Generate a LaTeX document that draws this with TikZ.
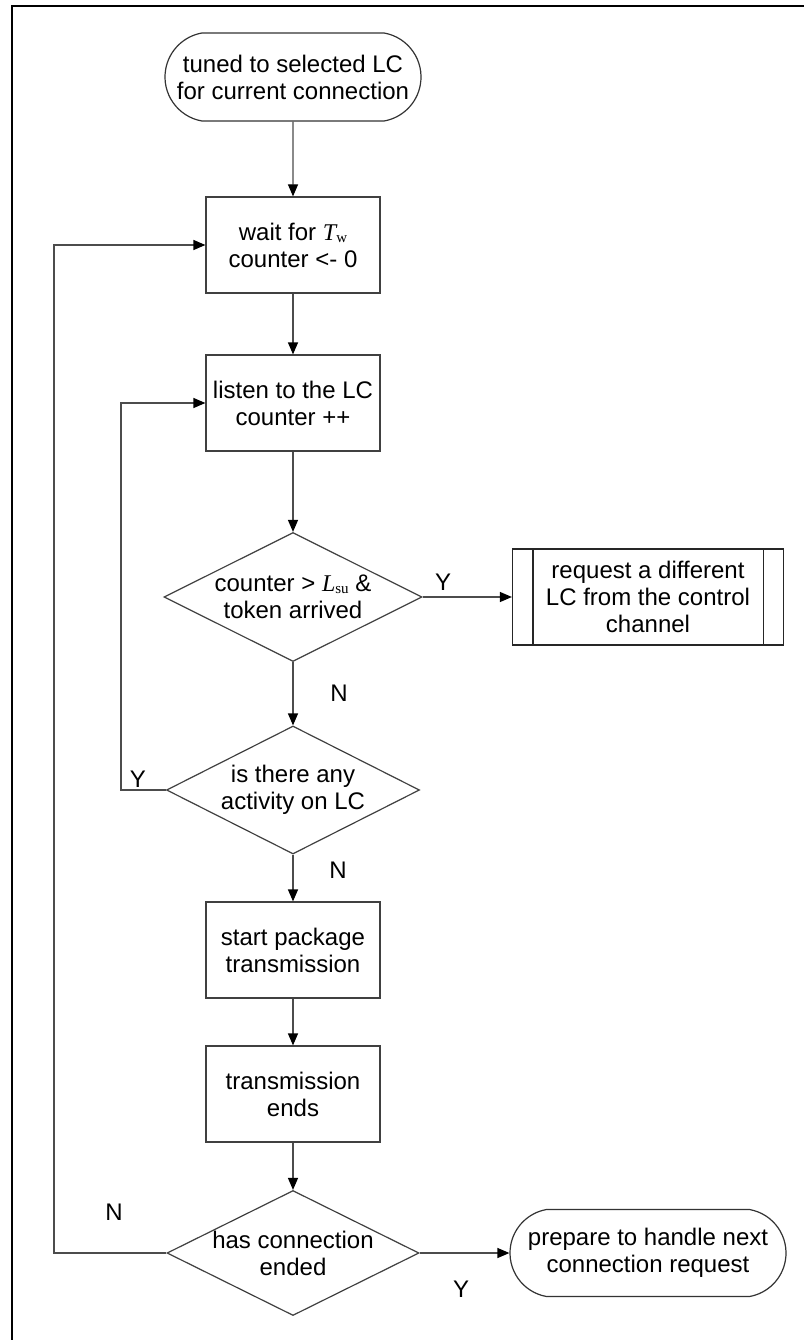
\documentclass[tikz,border=0pt]{standalone}
\usepackage{fontspec}
\setmainfont{Liberation Sans}
\newfontfamily\timesfont{Liberation Serif}
\usetikzlibrary{shapes.geometric,shapes.misc,arrows.meta}
\newcommand{\boxwd}{174pt}
\newcommand{\boxht}{96pt}
\newcommand{\varsub}[2]{{\timesfont\itshape #1}\raisebox{-2pt}{\timesfont\fontsize{15}{15}\selectfont #2}}
\tikzset{procbox/.style={rectangle, draw=black!75, line width=1.2pt, minimum width=\boxwd, minimum height=\boxht, inner sep=0pt, align=center},
  decision/.style={diamond, draw=black!75, line width=1.2pt, inner sep=0pt, label={[align=center, inner sep=0pt]center:{#1}}},
  termnode/.style={rounded rectangle, rounded rectangle arc length=160, draw=black!80, line width=1.2pt, inner sep=0pt, align=center},
  subproc/.style={rectangle, draw=black!85, line width=1.2pt, minimum width=271pt, minimum height=\boxht, inner sep=0pt, align=center},
  flow/.style={draw=black!70, line width=1.2pt, -{Triangle[length=12pt,width=10pt,color=black]}},
  yn/.style={inner sep=0pt}}

\begin{document}
\begin{tikzpicture}[x=1pt, y=-1pt, font=\fontsize{24}{27}\selectfont]

\useasboundingbox (0,0) rectangle (803,1340);
\draw[line width=2.5pt] (12,1360) -- (12,6) -- (820,6);

\node[termnode, minimum width=256pt, minimum height=88pt] (start) at (293,77) {tuned to selected LC\\for current connection};
\node[procbox] (wait) at (293,245) {wait for \varsub{T}{w}\\counter <- 0};
\node[procbox] (listen) at (293,403) {listen to the LC\\counter ++};
\node[decision={counter > \varsub{L}{su} \&\\token arrived}, minimum width=258pt, minimum height=129pt] (token) at (293,597) {};
\node[subproc] (req) at (648,597) {request a different\\LC from the control\\channel};
\node[decision={is there any\\activity on LC}, minimum width=253pt, minimum height=128pt] (busy) at (293,790) {};
\node[procbox] (send) at (293,950) {start package\\transmission};
\node[procbox] (sent) at (293,1094) {transmission\\ends};
\node[decision={has connection\\ended}, minimum width=252pt, minimum height=125pt] (ended) at (293,1253) {};
\node[termnode, minimum width=276pt, minimum height=87pt] (next) at (648,1253) {prepare to handle next\\connection request};

\draw[draw=black!85, line width=1.2pt] ([xshift=21pt]req.north west) -- ([xshift=21pt]req.south west);
\draw[draw=black!85, line width=1.2pt] ([xshift=-21pt]req.north east) -- ([xshift=-21pt]req.south east);

\draw[flow] (start) -- (wait);
\draw[flow] (wait) -- (listen);
\draw[flow] (listen) -- (token);
\draw[flow] (token.east) -- (req.west);
\draw[flow] (token.south) -- (busy.north);
\draw[flow] (busy.west) -- (121,790) |- (listen.west);
\draw[flow] (busy.south) -- (send.north);
\draw[flow] (send) -- (sent);
\draw[flow] (sent) -- (ended.north);
\draw[flow] (ended.east) -- (next.west);
\draw[flow] (ended.west) -- (54,1253) |- (wait.west);

\node[yn] (y1) at (443,582) {Y};
\node[yn] (n1) at (339,693) {N};
\node[yn] (y2) at (138,779) {Y};
\node[yn] (n2) at (338,870) {N};
\node[yn] (y3) at (461,1289) {Y};
\node[yn] (n3) at (114,1212) {N};

\end{tikzpicture}
\end{document}
